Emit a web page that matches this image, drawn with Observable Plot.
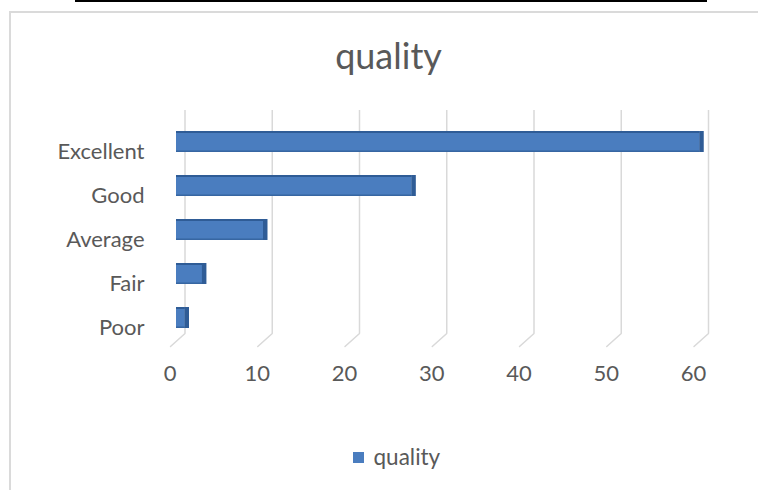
<!DOCTYPE html>
<html>
<head>
<meta charset="utf-8">
<script src="https://cdn.jsdelivr.net/npm/d3@7"></script>
<script src="https://cdn.jsdelivr.net/npm/@observablehq/plot@0.6"></script>
<style>
  html, body { margin: 0; padding: 0; background: #fff; }
  #wrap { position: relative; width: 758px; height: 490px; overflow: hidden; }
  #topline { position: absolute; left: 75px; top: 0; width: 632px; height: 2px; background: #000; }
  #border { position: absolute; left: 9px; top: 11px; width: 760px; height: 500px; border: 2px solid #dadada; }
  #chart { position: absolute; left: 0; top: 0; }
</style>
</head>
<body>
<div id="wrap">
  <div id="topline"></div>
  <div id="border"></div>
  <div id="chart"></div>
</div>
<script>
// Survey answers per quality rating
const categories = ["Excellent", "Good", "Average", "Fair", "Poor"];
const counts = [60, 27, 10, 3, 1];
const xTicks = [0, 10, 20, 30, 40, 50, 60];
const seriesName = "quality";

const rows = categories.map((category, i) => ({category, value: counts[i]}));

const font = "Lato, 'Open Sans', sans-serif";
const ink = "#595959";
const face = "#4a7dbf";
const edge = "#2f5c96";
const grid = "#d9d9d9";

// a plain line segment for the floor edges of the back wall
const segment = {draw(context, length) { context.moveTo(0, 0); context.lineTo(0, -length); }};

const chart = Plot.plot({
  width: 758,
  height: 490,
  marginTop: 110,
  marginBottom: 157,
  marginLeft: 0,
  marginRight: 0,
  style: {fontFamily: font, background: "transparent", color: ink},
  x: {domain: [0, 60], range: [169.5, 693], axis: null},
  y: {domain: categories, range: [119.5, 340], paddingInner: 0.52, paddingOuter: 0.26, axis: null},
  marks: [
    // back-wall gridlines and their floor edges
    Plot.ruleX(xTicks, {dx: 15, stroke: grid, strokeWidth: 1.5}),
    Plot.vector(xTicks, {x: d => d, frameAnchor: "bottom", dx: 15, length: 19.5, rotate: 228,
      anchor: "start", shape: segment, stroke: grid, strokeWidth: 1.5}),
    // bars: front face, top and bottom edges, end face
    Plot.barX(rows, {x: "value", y: "category", fill: face, dx: 6.5}),
    Plot.barX(rows, {x: "value", y: "category", fill: edge, dx: 6.5, insetBottom: 19}),
    Plot.barX(rows, {x: "value", y: "category", fill: edge, dx: 6.5, insetTop: 19.5, fillOpacity: 0.7}),
    Plot.tickX(rows, {x: "value", y: "category", dx: 8, stroke: edge, strokeWidth: 4.5}),
    // category labels
    Plot.text(categories, {x: 0, y: d => d, text: d => d, textAnchor: "end", dx: -25.5, dy: 10,
      fontSize: 22, fill: ink}),
    // value axis labels
    Plot.text(xTicks, {x: d => d, text: d => String(d), frameAnchor: "bottom", lineAnchor: "middle",
      dy: 40, fontSize: 22, fill: ink}),
    // title
    Plot.text([seriesName], {text: d => d, frameAnchor: "top", lineAnchor: "middle", dx: 9, dy: -53,
      fontSize: 36, fill: ink}),
    // legend
    Plot.dot([seriesName], {frameAnchor: "bottom", dx: -21, dy: 124, symbol: "square", r: 6.2, fill: face}),
    Plot.text([seriesName], {text: d => d, frameAnchor: "bottom", lineAnchor: "middle", dx: -6, dy: 124,
      textAnchor: "start", fontSize: 22.5, fill: ink})
  ]
});

document.getElementById("chart").append(chart);
</script>
</body>
</html>
